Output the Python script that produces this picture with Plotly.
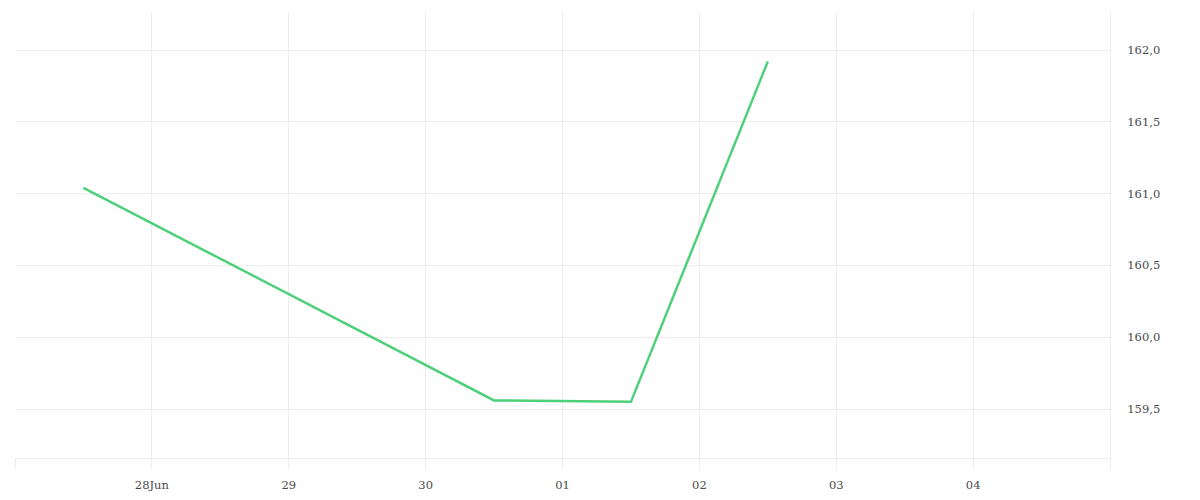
import plotly.graph_objects as go

dates = ["2024-06-27 12:00", "2024-06-30 12:00", "2024-07-01 12:00", "2024-07-02 12:00"]
values = [161.04, 159.56, 159.55, 161.92]

tick_dates = ["2024-06-27", "2024-06-28", "2024-06-29", "2024-06-30", "2024-07-01",
              "2024-07-02", "2024-07-03", "2024-07-04", "2024-07-05"]
tick_labels = ["", "28Jun", "29", "30", "01", "02", "03", "04", ""]
y_ticks = [159.5, 160.0, 160.5, 161.0, 161.5, 162.0]

grid = "#ececec"

fig = go.Figure()
fig.add_trace(go.Scatter(
    x=dates, y=values, mode="lines",
    line=dict(color="#4ed07a", width=2.5),
    hoverinfo="skip",
))

fig.update_layout(
    width=1200, height=500,
    margin=dict(l=7, r=98, t=4, b=50, autoexpand=False),
    paper_bgcolor="white", plot_bgcolor="white",
    showlegend=False,
    separators=", ",
    font=dict(family="DejaVu Serif", size=11.5, color="#4a4a4a"),
)
fig.update_xaxes(
    type="date",
    range=["2024-06-27", "2024-07-05"],
    tickmode="array", tickvals=tick_dates, ticktext=tick_labels,
    showgrid=True, gridcolor=grid, gridwidth=1,
    showline=True, linecolor=grid, linewidth=1,
    ticks="outside", ticklen=10, tickcolor=grid,
    ticklabelstandoff=6,
    zeroline=False,
)
fig.update_yaxes(
    side="right",
    range=[159.159, 162.265],
    tickmode="array", tickvals=y_ticks, tickformat=".1f",
    showgrid=True, gridcolor=grid, gridwidth=1,
    showline=True, linecolor=grid, linewidth=1,
    ticks="outside", ticklen=14, tickcolor="rgba(0,0,0,0)",
    zeroline=False,
)

fig.write_html("out.html")
